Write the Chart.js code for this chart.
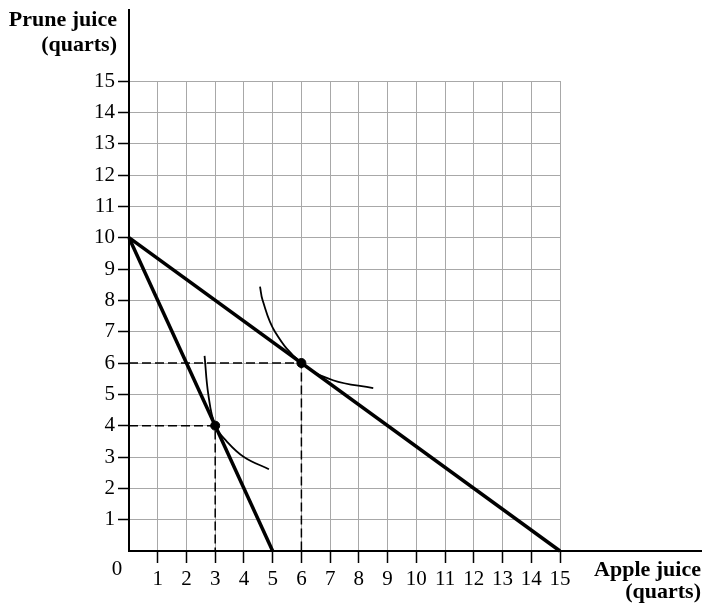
<!DOCTYPE html>
<html>
<head>
<meta charset="utf-8">
<script src="https://cdn.jsdelivr.net/npm/chart.js@4.4.1/dist/chart.umd.min.js"></script>
<style>
  body { margin: 0; background: #fff; }
  #wrap { width: 702px; height: 614px; }
</style>
</head>
<body>
<div id="wrap"><canvas id="myChart" width="702" height="614"></canvas></div>
<script>
// data
const axisMax = 15;
const budgetSteepX = [0, 5];
const budgetSteepY = [10, 0];
const budgetFlatX = [0, 15];
const budgetFlatY = [10, 0];
// indifference curves
const curveLowX = [2.63, 2.76, 3, 3.4, 4.0, 4.87];
const curveLowY = [6.23, 5.0, 4, 3.5, 3.0, 2.61];
const curveHighX = [4.56, 4.65, 5.08, 6, 7.1, 8.5];
const curveHighY = [8.44, 8.0, 7.0, 6, 5.45, 5.2];
// chosen bundles
const optX = [3, 6];
const optY = [4, 6];

function toPoints(xs, ys) {
    return xs.map((x, i) => ({ x: x, y: ys[i] }));
}

const serif = "'Liberation Serif', 'Times New Roman', serif";

const datasets = [];
// dashed guide lines to the axes
optX.forEach((x, i) => {
    datasets.push({
        data: [{ x: 0, y: optY[i] }, { x: x, y: optY[i] }, { x: x, y: 0 }],
        borderColor: '#000',
        borderWidth: 1.5,
        borderDash: [9, 4],
        pointRadius: 0,
        showLine: true,
        clip: false
    });
});
datasets.push({
    data: toPoints(budgetSteepX, budgetSteepY),
    borderColor: '#000', borderWidth: 3.5, pointRadius: 0, showLine: true, clip: false
});
datasets.push({
    data: toPoints(budgetFlatX, budgetFlatY),
    borderColor: '#000', borderWidth: 3.5, pointRadius: 0, showLine: true, clip: false
});
datasets.push({
    data: toPoints(curveLowX, curveLowY),
    borderColor: '#000', borderWidth: 1.8, pointRadius: 0, showLine: true,
    tension: 0.4, clip: false
});
datasets.push({
    data: toPoints(curveHighX, curveHighY),
    borderColor: '#000', borderWidth: 1.8, pointRadius: 0, showLine: true,
    tension: 0.4, clip: false
});
datasets.push({
    data: toPoints(optX, optY),
    backgroundColor: '#000', borderColor: '#000', pointRadius: 4.5, showLine: false, clip: false
});

// extended axis lines, axis titles and the origin "0"
const extras = {
    id: 'extras',
    afterDraw(chart) {
        const c = chart.ctx;
        const xs = chart.scales.x, ys = chart.scales.y;
        const x0 = xs.getPixelForValue(0), y0 = ys.getPixelForValue(0);
        c.save();
        c.strokeStyle = '#000';
        c.lineWidth = 2;
        c.beginPath();
        c.moveTo(x0, y0);
        c.lineTo(x0, 9);
        c.moveTo(x0, y0);
        c.lineTo(chart.width, y0);
        c.stroke();

        c.fillStyle = '#000';
        c.font = '21px ' + serif;
        c.textAlign = 'center';
        c.textBaseline = 'middle';
        c.fillText('0', x0 - 12, y0 + 18);

        c.font = 'bold 22px ' + serif;
        c.textAlign = 'right';
        c.textBaseline = 'alphabetic';
        c.fillText('Prune juice', 117, 26);
        c.fillText('(quarts)', 117, 51);
        c.fillText('Apple juice', 701, 576);
        c.fillText('(quarts)', 701, 598);
        c.restore();
    }
};

function gridColor(ctx) {
    return ctx.tick && ctx.tick.value === 0 ? 'rgba(0,0,0,0)' : '#a8a8a8';
}
function tickColor(ctx) {
    return ctx.tick && ctx.tick.value === 0 ? 'rgba(0,0,0,0)' : '#000';
}
function hideZero(v) {
    return v === 0 ? '' : v;
}

new Chart(document.getElementById('myChart').getContext('2d'), {
    type: 'scatter',
    data: { datasets: datasets },
    plugins: [extras],
    options: {
        responsive: false,
        animation: false,
        layout: { padding: { left: 0, top: 81, right: 142, bottom: 0 } },
        plugins: { legend: { display: false }, tooltip: { enabled: false } },
        scales: {
            x: {
                type: 'linear', min: 0, max: axisMax,
                afterFit(scale) { scale.height = 63; },
                border: { color: '#000', width: 2 },
                grid: { color: gridColor, tickColor: tickColor, lineWidth: 1, tickLength: 12, tickWidth: 1.5 },
                ticks: { stepSize: 1, autoSkip: false, maxRotation: 0, padding: 4, color: '#000',
                         font: { family: serif, size: 21 }, callback: hideZero }
            },
            y: {
                type: 'linear', min: 0, max: axisMax,
                afterFit(scale) { scale.width = 129; },
                border: { color: '#000', width: 2 },
                grid: { color: gridColor, tickColor: tickColor, lineWidth: 1, tickLength: 11, tickWidth: 1.5 },
                ticks: { stepSize: 1, autoSkip: false, padding: 3, color: '#000',
                         font: { family: serif, size: 21 }, callback: hideZero }
            }
        }
    }
});
</script>
</body>
</html>
